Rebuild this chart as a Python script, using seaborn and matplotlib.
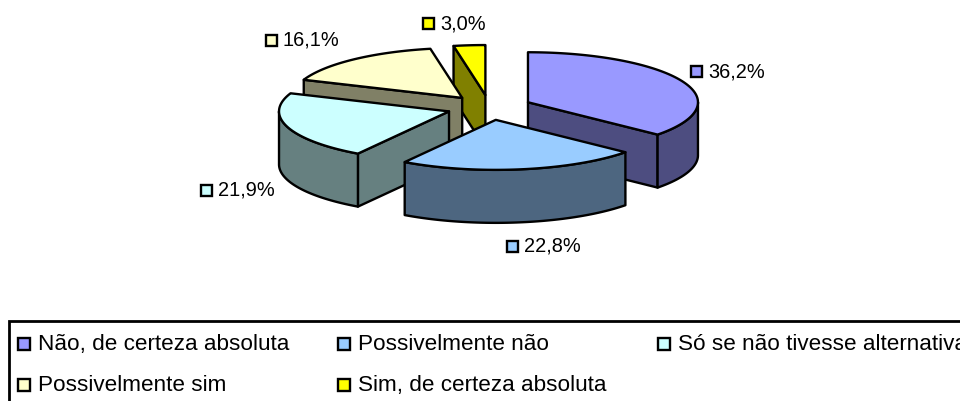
import numpy as np
import matplotlib
matplotlib.use("Agg")
import matplotlib.pyplot as plt
from matplotlib.patches import Rectangle
import seaborn as sns

# --- data ---
categories = ["Não, de certeza absoluta", "Possivelmente não", "Só se não tivesse alternativa",
              "Possivelmente sim", "Sim, de certeza absoluta"]
values = [36.2, 22.8, 21.9, 16.1, 3.0]
top_colors = ["#9999FF", "#99CCFF", "#CCFFFF", "#FFFFCC", "#FFFF00"]
side_colors = ["#4D4D80", "#4D6680", "#668080", "#808066", "#808000"]

sns.set_theme(style="white")
plt.rcParams["font.family"] = ["Liberation Sans", "DejaVu Sans"]

W, H = 960, 401
fig = plt.figure(figsize=(W / 100, H / 100), dpi=100, facecolor="white")
ax = fig.add_axes([0, 0, 1, 1])
ax.set_xlim(0, W)
ax.set_ylim(H, 0)
ax.axis("off")

# layout of the projected pie (pixels)
cx, cy, rx, ry = 489.4, 107.5, 170.0, 50.0
depth, explode = 53.0, 0.25
LW = 1.7
FS = 14.4
LEGEND_FS = 16.2

fracs = np.array(values) / sum(values)
ends = np.cumsum(fracs) * 2 * np.pi
starts = ends - fracs * 2 * np.pi


def rim(t, ox, oy):
    return ox + rx * np.sin(t), oy - ry * np.cos(t)


def poly(x, y, color, z):
    ax.fill(x, y, facecolor=color, edgecolor="black", linewidth=LW, joinstyle="round", zorder=z)


def cut_wall(theta, ox, oy, color, z):
    rxp, ryp = rim(theta, ox, oy)
    poly([ox, rxp, rxp, ox], [oy, ryp, ryp + depth, oy + depth], color, z)


# back-to-front painting order
order = [4, 3, 2, 0, 1]
for k, i in enumerate(order):
    s, e = starts[i], ends[i]
    mid = (s + e) / 2
    ox, oy = rim(mid, cx, cy)
    ox = cx + explode * (ox - cx)
    oy = cy + explode * (oy - cy)
    z = 10 * (k + 1)
    if np.sin(s) < -1e-6:
        cut_wall(s, ox, oy, side_colors[i], z)
    if np.sin(e) > 1e-6:
        cut_wall(e, ox, oy, side_colors[i], z + 1)
    # outer front wall: only the part facing the viewer
    a, b = max(s, np.pi / 2), min(e, 1.5 * np.pi)
    if b > a:
        t = np.linspace(a, b, 80)
        x, y = rim(t, ox, oy)
        poly(np.r_[x, x[::-1]], np.r_[y, y[::-1] + depth], side_colors[i], z + 2)
    t = np.linspace(s, e, 160)
    x, y = rim(t, ox, oy)
    poly(np.r_[ox, x], np.r_[oy, y], top_colors[i], z + 3)


def swatch(x, y, color, size=11):
    ax.add_patch(Rectangle((x - size / 2, y - size / 2), size, size, facecolor=color,
                           edgecolor="black", linewidth=LW, zorder=200))


# data labels
label_pos = [(696, 71), (512, 246), (206, 190), (271, 40), (428, 23)]
for (x, y), v, c in zip(label_pos, values, top_colors):
    swatch(x, y, c)
    ax.text(x + 12, y + 0.5, f"{v:.1f}%".replace(".", ","), fontsize=FS, color="black",
            va="center", ha="left", zorder=200)

# legend (frame runs off the canvas, as in the reference)
ax.add_patch(Rectangle((9, 321), W + 20, 100, facecolor="white", edgecolor="black",
                       linewidth=2, zorder=150))
legend_pos = [(24, 344), (344, 344), (664, 344), (24, 385), (344, 385)]
for (x, y), name, c in zip(legend_pos, categories, top_colors):
    swatch(x, y, c, size=12)
    ax.text(x + 14, y + 0.5, name, fontsize=LEGEND_FS, color="black", va="center", ha="left",
            zorder=200, clip_on=True)

fig.savefig("out.png", dpi=100, facecolor="white")
